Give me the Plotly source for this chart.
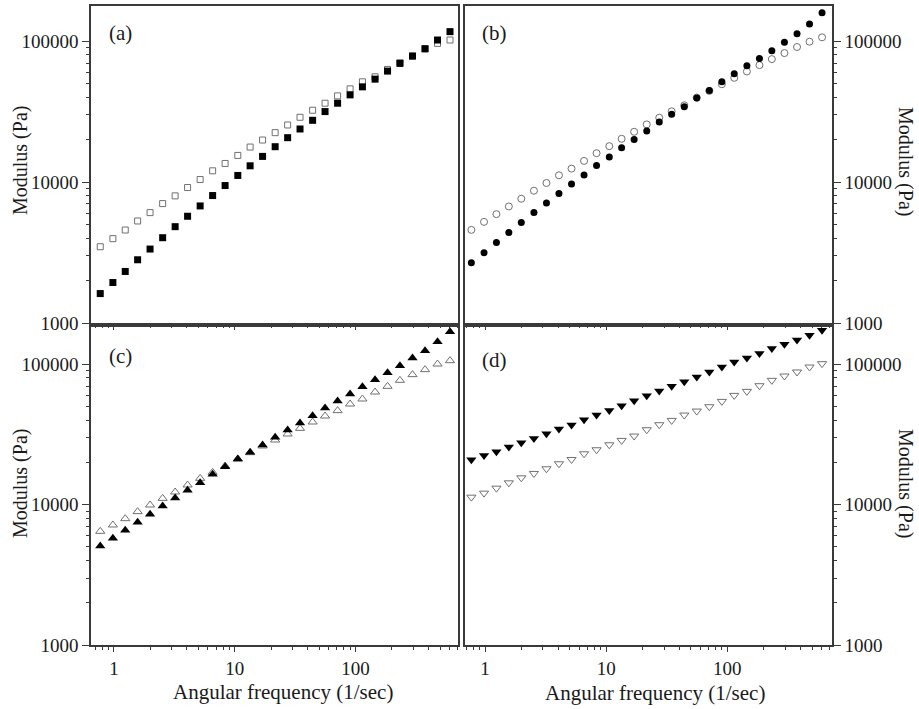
import plotly.graph_objects as go

# Angular frequency (1/sec)
freq = [0.77, 0.98, 1.24, 1.57, 1.99, 2.53, 3.21, 4.07, 5.17, 6.56, 8.32, 10.6,
        13.4, 17.0, 21.6, 27.4, 34.7, 44.1, 55.9, 71.0, 90.1, 114, 145, 184,
        233, 296, 376, 477, 605]

a_filled = [1618, 1938, 2323, 2812, 3350, 4033, 4831, 5727, 6780, 8035, 9465, 11160,
            13070, 15240, 17860, 20700, 23860, 27500, 31720, 36370, 41690, 47530,
            53900, 61480, 69700, 78630, 88700, 102200, 117200]
a_open = [3480, 3970, 4575, 5303, 6080, 7046, 7993, 9160, 10440, 12040, 13580, 15490,
          17760, 19920, 22470, 25480, 28900, 32420, 36370, 41000, 45990, 51600,
          56000, 63160, 70460, 78630, 88190, 96770, 102200]

b_filled = [2680, 3158, 3722, 4386, 5168, 6092, 7101, 8325, 9704, 11250, 13110, 15120,
            17530, 20100, 23050, 26710, 30330, 34390, 39640, 44700, 51550, 58790,
            67050, 75640, 85800, 98370, 113400, 133000, 159300]
b_open = [4583, 5226, 5928, 6724, 7628, 8698, 9864, 11190, 12480, 14160, 16060, 18020,
          20320, 22790, 25710, 28700, 31850, 35150, 39860, 44470, 49620, 55060,
          61080, 67780, 74800, 82560, 91120, 99450, 106800]

c_filled = [5076, 5754, 6564, 7483, 8535, 9783, 11160, 12650, 14350, 16450, 18650, 21150,
            23590, 26620, 30170, 34050, 38180, 43070, 48830, 54790, 61450, 69290,
            77770, 87230, 97840, 111000, 125100, 145000, 170900]
c_open = [6456, 7166, 7948, 8920, 9945, 11090, 12310, 13810, 15400, 17000, 18860, 21150,
          23470, 26190, 28890, 31880, 34970, 38820, 42830, 46770, 52150, 56610,
          63490, 69700, 76910, 84420, 91620, 100500, 106200]

d_filled = [20890, 22430, 23810, 25720, 27620, 29670, 32010, 34570, 36910, 40300, 43500,
            46970, 50730, 55040, 59770, 64550, 69700, 75230, 81240, 88190, 95720,
            103900, 111000, 119200, 129400, 138900, 149100, 161000, 174800]
d_open = [11310, 12080, 13110, 14310, 15540, 16690, 18020, 19560, 20990, 23050, 24620,
          26710, 28700, 30820, 34200, 37130, 39860, 43500, 46450, 49890, 54450, 60080,
          64170, 70440, 76910, 82560, 88190, 95720, 101100]

y_ticks = [1000, 10000, 100000]
y_labels = ["1000", "10000", "100000"]
x_ticks = [1, 10, 100]
x_labels = ["1", "10", "100"]
panel_labels = ["(a)", "(b)", "(c)", "(d)"]
y_title = "Modulus (Pa)"
x_title = "Angular frequency (1/sec)"

W, H = 919, 709
FONT = "Liberation Serif"
INK = "#1a1a1a"
LINE = "#3a3a3a"
OPEN = "#707070"

fig = go.Figure()

panels = [
    ("x", "y", a_filled, a_open, "square", "square-open", 7, 6),
    ("x2", "y2", b_filled, b_open, "circle", "circle-open", 7, 7),
    ("x3", "y3", c_filled, c_open, "triangle-up", "triangle-up-open", 9, 8),
    ("x4", "y4", d_filled, d_open, "triangle-down", "triangle-down-open", 9, 8),
]
for xa, ya, filled, opn, sym_f, sym_o, sf, so in panels:
    fig.add_trace(go.Scatter(x=freq, y=opn, mode="markers", xaxis=xa, yaxis=ya,
                             marker=dict(symbol=sym_o, size=so, color=OPEN,
                                         line=dict(width=1, color=OPEN)),
                             showlegend=False))
    fig.add_trace(go.Scatter(x=freq, y=filled, mode="markers", xaxis=xa, yaxis=ya,
                             marker=dict(symbol=sym_f, size=sf, color="black",
                                         line=dict(width=0)),
                             showlegend=False))

minor_x = [m * 10 ** e for e in range(-1, 3) for m in range(2, 10)]
minor_y = [m * 10 ** e for e in range(3, 6) for m in range(2, 10)]

xl = [91 / W, 458 / W]
xr = [465 / W, 832 / W]
yt = [1 - 323 / H, 1 - 6 / H]
yb = [1 - 645 / H, 1 - 327 / H]

def xaxis(domain, rng, labels, anchor):
    return dict(type="log", domain=domain, range=rng, showgrid=False, zeroline=False,
                automargin=False, anchor=anchor,
                showline=True, mirror=True, linecolor=LINE, linewidth=1.5,
                tickmode="array", tickvals=x_ticks,
                ticktext=x_labels if labels else ["", "", ""],
                ticks="outside", ticklen=5, tickcolor=LINE,
                minor=dict(tickmode="array", tickvals=minor_x, ticks="outside",
                           ticklen=3, tickcolor=LINE, showgrid=False),
                tickfont=dict(family=FONT, size=19, color=INK))

def yaxis(domain, rng, side, anchor):
    return dict(type="log", domain=domain, range=rng, showgrid=False, zeroline=False,
                automargin=False, side=side, anchor=anchor,
                showline=True, mirror=True, linecolor=LINE, linewidth=1.5,
                tickmode="array", tickvals=y_ticks, ticktext=y_labels,
                ticks="outside", ticklen=7, tickcolor=LINE,
                minor=dict(tickmode="array", tickvals=minor_y, ticks="outside",
                           ticklen=3, tickcolor=LINE, showgrid=False),
                tickfont=dict(family=FONT, size=19, color=INK))

fig.update_layout(
    width=W, height=H, autosize=False,
    margin=dict(l=0, r=0, t=0, b=0, pad=0),
    paper_bgcolor="white", plot_bgcolor="white",
    xaxis=xaxis(xl, [-0.19, 2.848], False, "y"),
    xaxis2=xaxis(xr, [-0.166, 2.864], False, "y2"),
    xaxis3=xaxis(xl, [-0.19, 2.848], True, "y3"),
    xaxis4=xaxis(xr, [-0.166, 2.864], True, "y4"),
    yaxis=yaxis(yt, [3, 5.251], "left", "x"),
    yaxis2=yaxis(yt, [3, 5.251], "right", "x2"),
    yaxis3=yaxis(yb, [3, 5.266], "left", "x3"),
    yaxis4=yaxis(yb, [3, 5.266], "right", "x4"),
)

ann = []
label_pos = [(120, 33), (494, 33), (120, 356), (494, 360)]
for txt, (px, py) in zip(panel_labels, label_pos):
    ann.append(dict(text=txt, x=px / W, y=1 - py / H, xref="paper", yref="paper",
                    showarrow=False, xanchor="center", yanchor="middle",
                    font=dict(family=FONT, size=21, color=INK)))
for px, py, ang in [(20, 161, -90), (20, 484, -90), (906, 161, 90), (906, 483, 90)]:
    ann.append(dict(text=y_title, x=px / W, y=1 - py / H, xref="paper", yref="paper",
                    showarrow=False, xanchor="center", yanchor="middle", textangle=ang,
                    font=dict(family=FONT, size=20, color=INK)))
for px, py in [(283, 692), (655, 693)]:
    ann.append(dict(text=x_title, x=px / W, y=1 - py / H, xref="paper", yref="paper",
                    showarrow=False, xanchor="center", yanchor="middle",
                    font=dict(family=FONT, size=21, color=INK)))
fig.update_layout(annotations=ann)

fig.write_html("out.html",
               config={"displayModeBar": False},
               post_script="document.body.style.margin='0';"
                           "document.body.style.padding='0';"
                           "document.body.style.overflow='hidden';")
